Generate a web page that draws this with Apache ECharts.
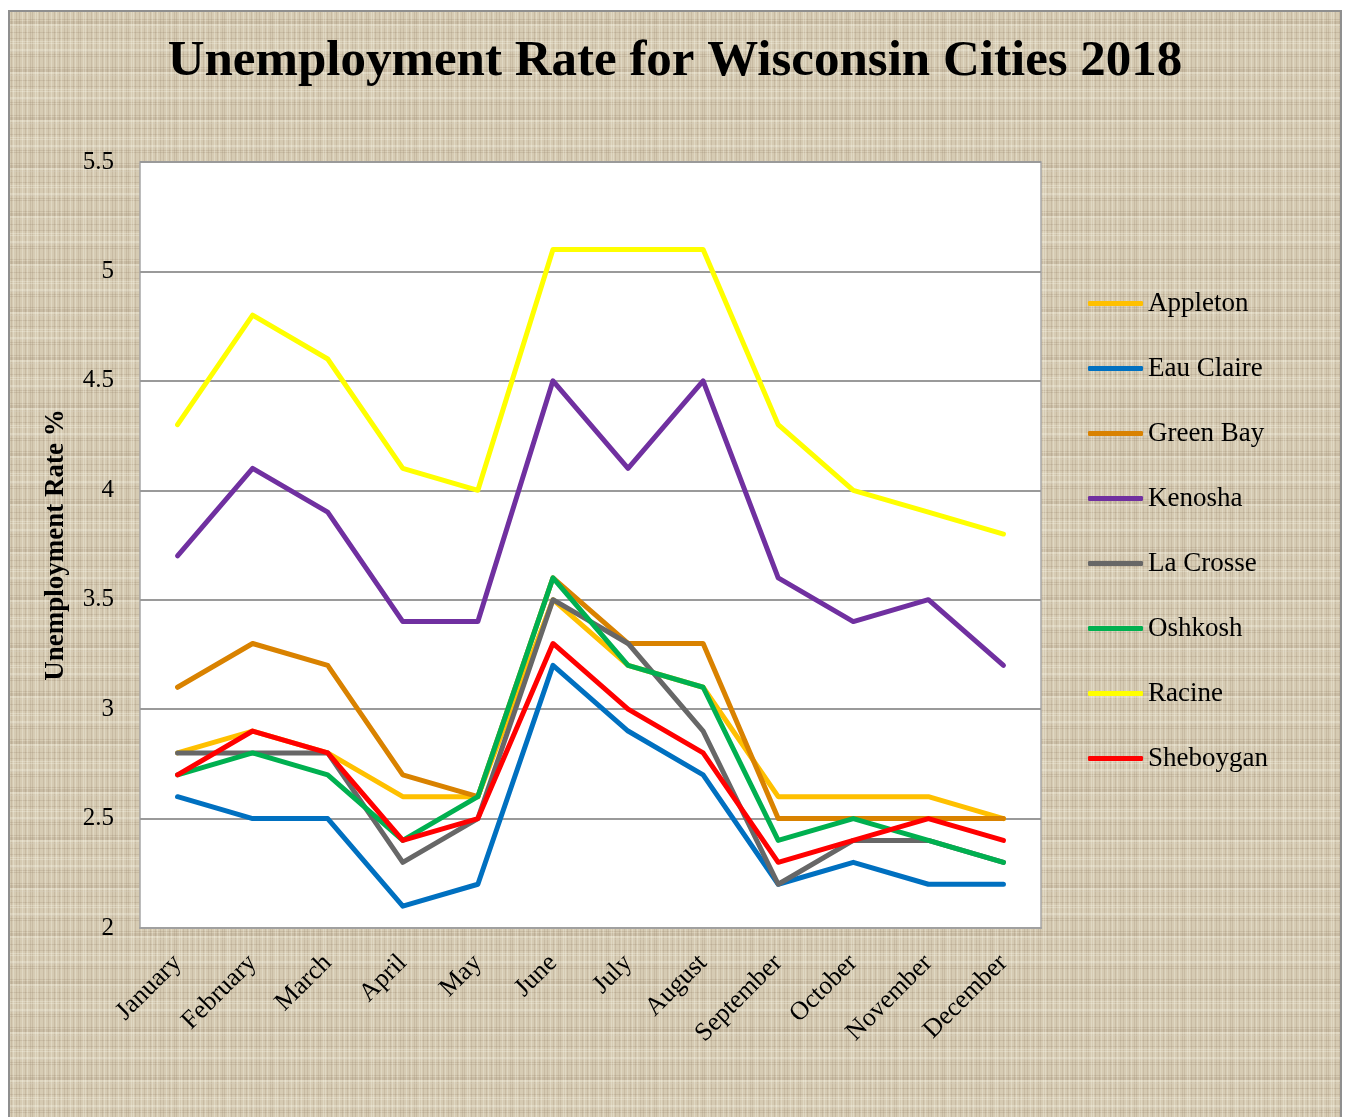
<!DOCTYPE html>
<html>
<head>
<meta charset="utf-8">
<title>Unemployment Rate for Wisconsin Cities 2018</title>
<script src="https://cdn.jsdelivr.net/npm/echarts@6/dist/echarts.min.js"></script>
<style>
  html, body { margin: 0; padding: 0; background: #fff; }
  #frame { position: absolute; left: 8px; top: 10px; border: 2px solid #8f8f8f; }
  #chart { width: 1330px; height: 1120px; }
</style>
</head>
<body>
<div id="frame"><div id="chart"></div></div>
<script>
const months = ['January', 'February', 'March', 'April', 'May', 'June', 'July', 'August', 'September', 'October', 'November', 'December']
const yTicks = [2, 2.5, 3, 3.5, 4, 4.5, 5, 5.5]

const appleton  = [2.8, 2.9, 2.8, 2.6, 2.6, 3.5, 3.2, 3.1, 2.6, 2.6, 2.6, 2.5]
const eauClaire = [2.6, 2.5, 2.5, 2.1, 2.2, 3.2, 2.9, 2.7, 2.2, 2.3, 2.2, 2.2]
const greenBay  = [3.1, 3.3, 3.2, 2.7, 2.6, 3.6, 3.3, 3.3, 2.5, 2.5, 2.5, 2.5]
const kenosha   = [3.7, 4.1, 3.9, 3.4, 3.4, 4.5, 4.1, 4.5, 3.6, 3.4, 3.5, 3.2]
const laCrosse  = [2.8, 2.8, 2.8, 2.3, 2.5, 3.5, 3.3, 2.9, 2.2, 2.4, 2.4, 2.3]
const oshkosh   = [2.7, 2.8, 2.7, 2.4, 2.6, 3.6, 3.2, 3.1, 2.4, 2.5, 2.4, 2.3]
const racine    = [4.3, 4.8, 4.6, 4.1, 4.0, 5.1, 5.1, 5.1, 4.3, 4.0, 3.9, 3.8]
const sheboygan = [2.7, 2.9, 2.8, 2.4, 2.5, 3.3, 3.0, 2.8, 2.3, 2.4, 2.5, 2.4]

const cities = [
  { name: 'Appleton',   data: appleton,  color: '#ffc000' },
  { name: 'Eau Claire', data: eauClaire, color: '#0070c0' },
  { name: 'Green Bay',  data: greenBay,  color: '#d98200' },
  { name: 'Kenosha',    data: kenosha,   color: '#7030a0' },
  { name: 'La Crosse',  data: laCrosse,  color: '#676767' },
  { name: 'Oshkosh',    data: oshkosh,   color: '#00b050' },
  { name: 'Racine',     data: racine,    color: '#ffff00' },
  { name: 'Sheboygan',  data: sheboygan, color: '#ff0000' },
]

const FONT = "'Liberation Serif', 'DejaVu Serif', serif"

// linen-like background tile, fixed stripes
function linenTile() {
  const c = document.createElement('canvas')
  c.width = 48; c.height = 48
  const g = c.getContext('2d')
  g.fillStyle = '#d6cbb3'
  g.fillRect(0, 0, 48, 48)
  const dark = [1, 6, 9, 15, 20, 22, 29, 33, 38, 44]
  const light = [3, 12, 17, 25, 27, 35, 41, 46]
  g.fillStyle = 'rgba(130,114,88,.17)'
  dark.forEach(p => { g.fillRect(p, 0, 1, 48); g.fillRect(0, (p * 7) % 48, 48, 1) })
  g.fillStyle = 'rgba(255,255,245,.25)'
  light.forEach(p => { g.fillRect(p, 0, 1, 48); g.fillRect(0, (p * 5) % 48, 48, 1) })
  return c
}

const chart = echarts.init(document.getElementById('chart'), null, { renderer: 'canvas' })

chart.setOption({
  backgroundColor: { image: linenTile(), repeat: 'repeat' },
  animation: false,
  title: {
    text: 'Unemployment Rate for Wisconsin Cities 2018',
    left: 'center', top: 19,
    textStyle: { fontFamily: FONT, fontWeight: 'bold', fontSize: 51, color: '#000' },
  },
  legend: {
    orient: 'vertical', left: 1073, top: 273,
    itemWidth: 55, itemHeight: 5, itemGap: 38,
    icon: 'roundRect',
    textStyle: { fontFamily: FONT, fontSize: 27, color: '#000', lineHeight: 27 },
    data: cities.map(c => c.name),
  },
  grid: {
    left: 130, top: 150, width: 901, height: 766,
    show: true, backgroundColor: '#fff', borderColor: '#a6a6a6', borderWidth: 1.5,
  },
  xAxis: {
    type: 'category', data: months, boundaryGap: true,
    axisLine: { lineStyle: { color: '#a0a0a0', width: 2 } },
    axisTick: { show: false },
    axisLabel: { rotate: 45, margin: 31, interval: 0, fontFamily: FONT, fontSize: 26, color: '#000' },
  },
  yAxis: {
    type: 'value', min: yTicks[0], max: yTicks[yTicks.length - 1], interval: 0.5,
    name: 'Unemployment Rate %', nameLocation: 'middle', nameGap: 70, nameRotate: 90,
    nameTextStyle: { fontFamily: FONT, fontWeight: 'bold', fontSize: 27, color: '#000' },
    axisLine: { show: false }, axisTick: { show: false },
    axisLabel: { margin: 26, fontFamily: FONT, fontSize: 25, color: '#000' },
    splitLine: { lineStyle: { color: '#9a9a9a', width: 2 } },
  },
  series: cities.map(c => ({
    name: c.name, type: 'line', data: c.data,
    symbol: 'none', smooth: false,
    lineStyle: { color: c.color, width: 5, cap: 'round', join: 'round' },
    itemStyle: { color: c.color },
  })),
})
</script>
</body>
</html>
